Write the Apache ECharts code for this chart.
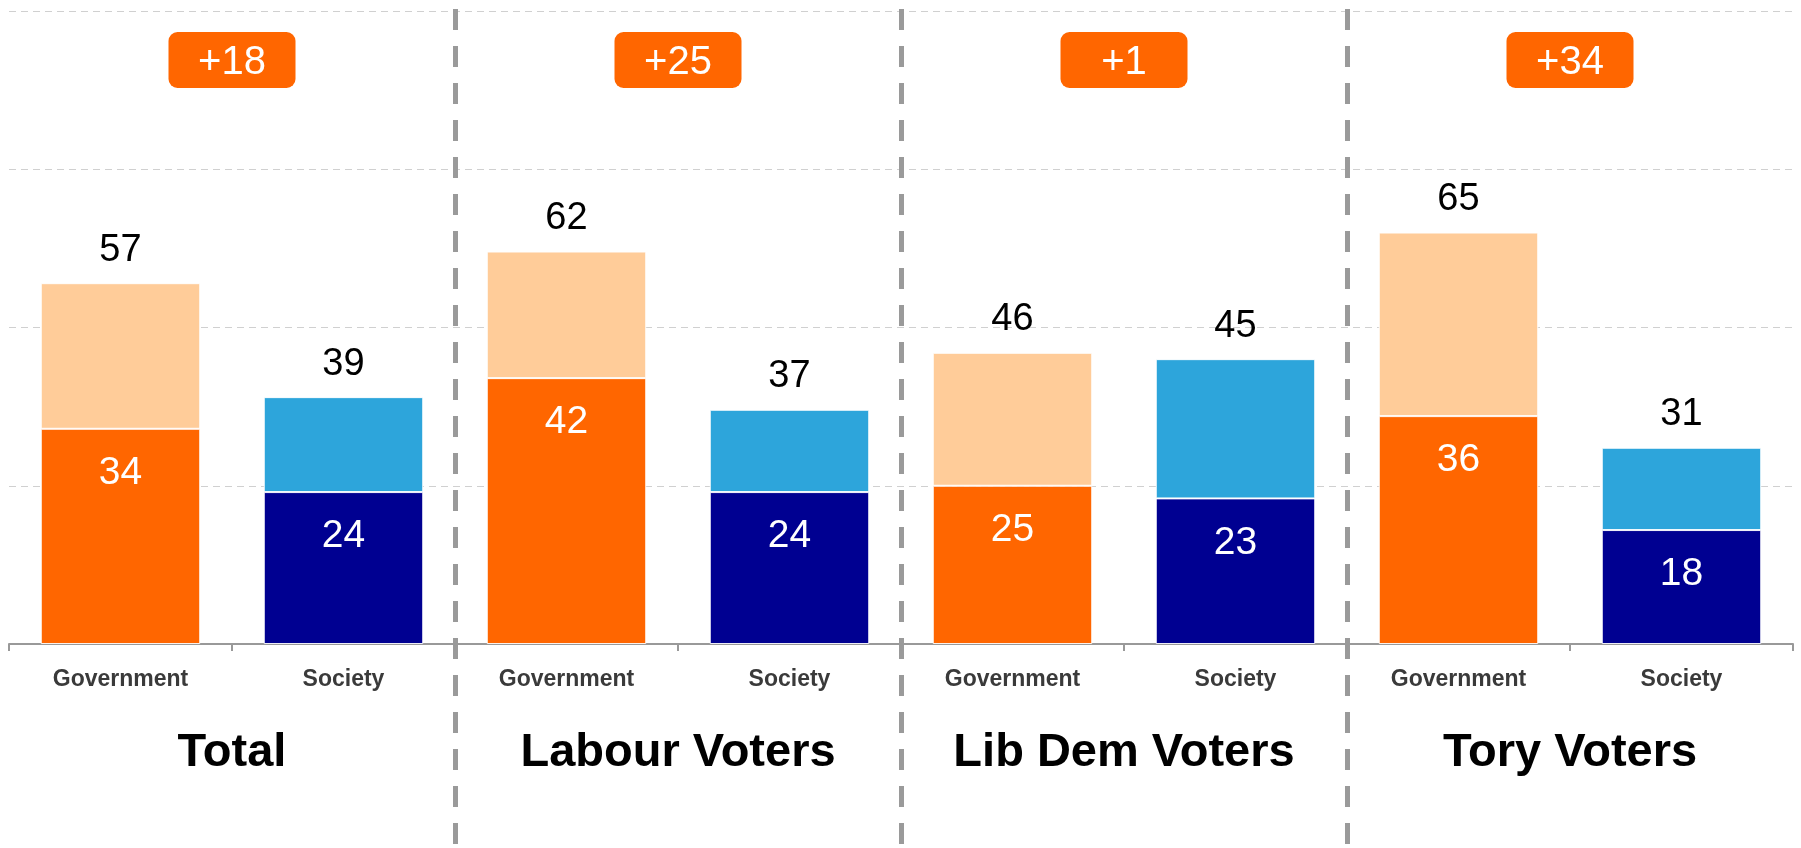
<!DOCTYPE html>
<html>
<head>
<meta charset="utf-8">
<script src="https://cdn.jsdelivr.net/npm/echarts@6/dist/echarts.min.js"></script>
<style>
html,body{margin:0;padding:0;background:#fff;}
#chart{width:1801px;height:848px;}
</style>
</head>
<body>
<div id="chart"></div>
<script>
// ---- data ----
const groups = ['Total', 'Labour Voters', 'Lib Dem Voters', 'Tory Voters'];
const subCats = ['Government', 'Society'];
const govTotal = [57, 62, 46, 65];
const govBase = [34, 42, 25, 36];
const socTotal = [39, 37, 45, 31];
const socBase = [24, 24, 23, 18];
const yTicks = [0, 25, 50, 75, 100];

// ---- colours ----
const C = {
  govBase: '#FF6600', govTop: '#FFCC99',
  socBase: '#000091', socTop: '#2DA5DB'
};
const FONT = "'Liberation Sans', Arial, sans-serif";

// build interleaved category data
const cats = [], baseData = [], topData = [], totals = [];
groups.forEach((g, i) => {
  cats.push(subCats[0]);
  baseData.push({ value: govBase[i], itemStyle: { color: C.govBase } });
  topData.push({ value: govTotal[i] - govBase[i], itemStyle: { color: C.govTop } });
  totals.push(govTotal[i]);
  cats.push(subCats[1]);
  baseData.push({ value: socBase[i], itemStyle: { color: C.socBase } });
  topData.push({ value: socTotal[i] - socBase[i], itemStyle: { color: C.socTop } });
  totals.push(socTotal[i]);
});
const diffs = groups.map((g, i) => {
  const d = govTotal[i] - socTotal[i];
  return (d >= 0 ? '+' : '') + d;
});

const chart = echarts.init(document.getElementById('chart'), null, { renderer: 'canvas' });
chart.setOption({
  animation: false,
  backgroundColor: '#fff',
  grid: [
    { left: 9, right: 8, top: 11, bottom: 204 },
    { left: 9, right: 8, top: 9, bottom: 0 }
  ],
  xAxis: [
    { // sub categories
      type: 'category', gridIndex: 0, position: 'bottom', data: cats,
      axisLine: { show: true, lineStyle: { color: '#999', width: 2 } },
      axisTick: { show: true, length: 7, lineStyle: { color: '#999', width: 2 } },
      axisLabel: { fontFamily: FONT, fontWeight: 'bold', fontSize: 23, color: '#3a3a3a', margin: 24 },
      splitLine: { show: false }
    },
    { // group labels
      type: 'category', gridIndex: 0, position: 'bottom', data: groups,
      axisLine: { show: false }, axisTick: { show: false },
      axisLabel: { fontFamily: FONT, fontWeight: 'bold', fontSize: 47, color: '#000', margin: 86 },
      splitLine: { show: false }
    },
    { // badges
      type: 'category', gridIndex: 0, position: 'top', data: diffs,
      axisLine: { show: false }, axisTick: { show: false },
      axisLabel: {
        inside: true, margin: 21, fontFamily: FONT, fontSize: 40, color: '#fff',
        backgroundColor: '#FF6600', borderRadius: 9, width: 127, align: 'center',
        lineHeight: 40, padding: [11, 0, 5, 0]
      },
      splitLine: { show: false }
    },
    { // group dividers
      type: 'category', gridIndex: 1, data: groups,
      axisLine: { show: false }, axisTick: { show: false }, axisLabel: { show: false },
      splitLine: { show: true, showMinLine: false, showMaxLine: false,
        lineStyle: { color: '#9a9a9a', width: 5, type: [21, 16] } }
    }
  ],
  yAxis: [
    {
      type: 'value', gridIndex: 0, min: yTicks[0], max: yTicks[yTicks.length - 1], interval: 25,
      axisLine: { show: false }, axisTick: { show: false }, axisLabel: { show: false },
      splitLine: { show: true, lineStyle: { color: '#d0d0d0', width: 1, type: [7, 5] } }
    },
    {
      type: 'value', gridIndex: 1, min: 0, max: 1, show: false
    }
  ],
  series: [
    {
      type: 'bar', name: 'base', xAxisIndex: 0, yAxisIndex: 0, stack: 's',
      barWidth: '71.5%', data: baseData,
      itemStyle: { borderColor: 'rgba(255,255,255,0.9)', borderWidth: 1 },
      label: {
        show: true, position: 'insideTop', distance: 25,
        fontFamily: FONT, fontSize: 39, color: '#fff'
      }
    },
    {
      type: 'bar', name: 'top', xAxisIndex: 0, yAxisIndex: 0, stack: 's',
      barWidth: '71.5%', data: topData,
      itemStyle: { borderColor: 'rgba(255,255,255,0.9)', borderWidth: 1 },
      label: {
        show: true, position: 'top', distance: 14,
        fontFamily: FONT, fontSize: 38, color: '#000',
        formatter: p => totals[p.dataIndex]
      }
    }
  ]
});
</script>
</body>
</html>
